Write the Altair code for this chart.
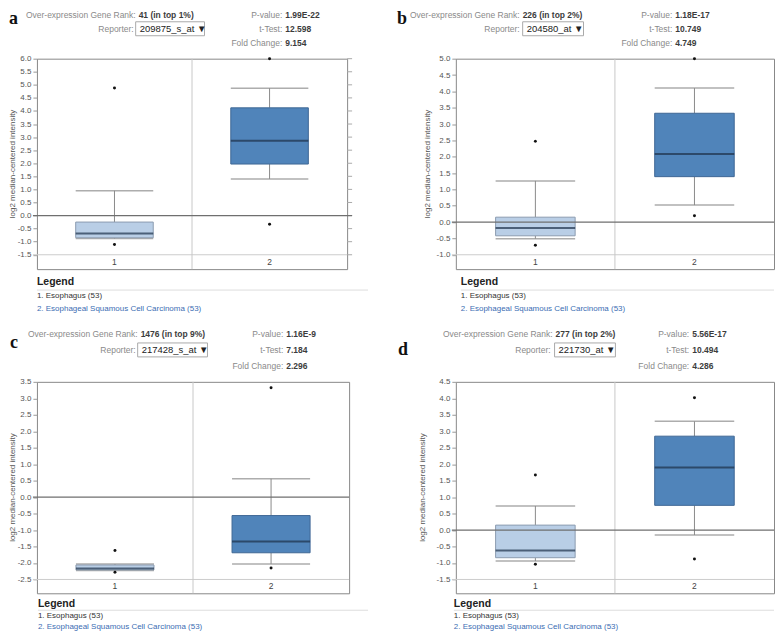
import altair as alt
import pandas as pd

FONT = "Liberation Sans"
GROUPS = ["1", "2"]

# ---------- panel a ----------
A_LOW = [-0.88, 1.40]
A_Q1 = [-0.85, 1.97]
A_MED = [-0.69, 2.86]
A_Q3 = [-0.25, 4.12]
A_HIGH = [0.95, 4.87]
A_OUT_G = ["1", "1", "2", "2"]
A_OUT_V = [4.88, -1.11, 6.00, -0.33]
A_TICKS = [-1.5, -1.0, -0.5, 0.0, 0.5, 1.0, 1.5, 2.0, 2.5, 3.0, 3.5, 4.0, 4.5, 5.0, 5.5, 6.0]
A_INFO = ["a", "41 (in top 1%)", "209875_s_at", "1.99E-22", "12.598", "9.154"]

# ---------- panel b ----------
B_LOW = [-0.51, 0.52]
B_Q1 = [-0.42, 1.39]
B_MED = [-0.18, 2.08]
B_Q3 = [0.15, 3.33]
B_HIGH = [1.26, 4.10]
B_OUT_G = ["1", "1", "2", "2"]
B_OUT_V = [2.47, -0.71, 5.00, 0.19]
B_TICKS = [-1.0, -0.5, 0.0, 0.5, 1.0, 1.5, 2.0, 2.5, 3.0, 3.5, 4.0, 4.5, 5.0]
B_INFO = ["b", "226 (in top 2%)", "204580_at", "1.18E-17", "10.749", "4.749"]

# ---------- panel c ----------
C_LOW = [-2.23, -2.03]
C_Q1 = [-2.21, -1.69]
C_MED = [-2.17, -1.35]
C_Q3 = [-2.06, -0.56]
C_HIGH = [-2.03, 0.56]
C_OUT_G = ["1", "1", "2", "2"]
C_OUT_V = [-1.62, -2.28, 3.32, -2.15]
C_TICKS = [-2.5, -2.0, -1.5, -1.0, -0.5, 0.0, 0.5, 1.0, 1.5, 2.0, 2.5, 3.0, 3.5]
C_INFO = ["c", "1476 (in top 9%)", "217428_s_at", "1.16E-9", "7.184", "2.296"]

# ---------- panel d ----------
D_LOW = [-0.94, -0.15]
D_Q1 = [-0.84, 0.75]
D_MED = [-0.62, 1.90]
D_Q3 = [0.15, 2.85]
D_HIGH = [0.73, 3.30]
D_OUT_G = ["1", "1", "2", "2"]
D_OUT_V = [1.67, -1.04, 4.02, -0.88]
D_TICKS = [-1.5, -1.0, -0.5, 0.0, 0.5, 1.0, 1.5, 2.0, 2.5, 3.0, 3.5, 4.0, 4.5]
D_INFO = ["d", "277 (in top 2%)", "221730_at", "5.56E-17", "10.494", "4.286"]

LEGEND_1 = "1. Esophagus (53)"
LEGEND_2 = "2. Esophageal Squamous Cell Carcinoma (53)"
Y_TITLE = "log2 median-centered intensity"

ONE = pd.DataFrame({"k": [0]})


def txt(s, x, y, align="left", size=8.5, color="#8a8a8a", weight="normal",
        font=FONT, angle=0):
    return alt.Chart(ONE).mark_text(
        text=s, align=align, baseline="middle", fontSize=size, color=color,
        fontWeight=weight, font=font, angle=angle
    ).encode(x=alt.value(x), y=alt.value(y))


def panel(low, q1, med, q3, high, og, ov, ticks, info, domain, L):
    W, H = L["W"], L["H"]
    ysc = alt.Scale(domain=domain, nice=False, zero=False)
    yax = alt.Axis(values=ticks, title=None, domain=False, grid=False,
                   tickColor="#999999", tickSize=4, labelFontSize=8,
                   labelColor="#555555", labelFont=FONT, labelPadding=2,
                   labelExpr="replace(format(datum.value, '.1f'), '\u2212', '-')")

    def Y(f):
        return alt.Y(f, type="quantitative", scale=ysc, axis=yax)

    X = alt.X("g:N", scale=alt.Scale(domain=GROUPS, paddingInner=0, paddingOuter=0), axis=None)
    box = pd.DataFrame({"g": GROUPS, "lo": low, "q1": q1, "med": med, "q3": q3, "hi": high})
    out = pd.DataFrame({"g": og, "v": ov})
    tdf = pd.DataFrame({"t": ticks})
    bw = W / 4.0

    fill = alt.Color("g:N", scale=alt.Scale(domain=GROUPS, range=["#b9cee6", "#5084ba"]), legend=None)
    strk = alt.Stroke("g:N", scale=alt.Scale(domain=GROUPS, range=["#8c9cb0", "#3f6795"]), legend=None)

    layers = []
    layers.append(alt.Chart(pd.DataFrame({"t": [ticks[0]]})).mark_rule(color="#cccccc").encode(
        y=Y("t"), x=alt.value(-4), x2=alt.value(W)))
    layers.append(alt.Chart(ONE).mark_rule(color="#c8c8c8").encode(
        x=alt.value(W / 2.0), y=alt.value(0), y2=alt.value(H)))
    if L.get("right_ticks"):
        layers.append(alt.Chart(tdf).mark_rule(color="#aaaaaa").encode(
            y=Y("t"), x=alt.value(W), x2=alt.value(W + 5)))
    layers.append(alt.Chart(box).mark_rule(color="#8a8a8a").encode(x=X, y=Y("q3"), y2="hi"))
    layers.append(alt.Chart(box).mark_rule(color="#8a8a8a").encode(x=X, y=Y("lo"), y2="q1"))
    layers.append(alt.Chart(box).mark_tick(size=bw, thickness=1.5, color="#8a8a8a").encode(x=X, y=Y("hi")))
    layers.append(alt.Chart(box).mark_tick(size=bw, thickness=1.5, color="#8a8a8a").encode(x=X, y=Y("lo")))
    layers.append(alt.Chart(box).mark_bar(width=bw, strokeWidth=1).encode(
        x=X, y=Y("q1"), y2="q3", color=fill, stroke=strk))
    layers.append(alt.Chart(pd.DataFrame({"z": [0.0]})).mark_rule(color="#6f6f6f", strokeWidth=1.2).encode(
        y=Y("z"), x=alt.value(-4), x2=alt.value(W + (5 if L.get("right_ticks") else 0))))
    layers.append(alt.Chart(box).mark_tick(size=bw, thickness=2, color="#1d3048").encode(x=X, y=Y("med")))
    layers.append(alt.Chart(out).mark_circle(size=9, color="#111111", opacity=1).encode(x=X, y=Y("v")))
    layers.append(alt.Chart(box).mark_text(fontSize=8.5, color="#444444", font=FONT, baseline="middle").encode(
        x=X, y=alt.value(H - 7), text="g:N"))

    layers.append(txt(Y_TITLE, L["yt"], H / 2.0, align="center", size=8, color="#555555", angle=270))

    letter, rank, rep, pv, tt, fc = info
    hy = L["hy"]
    layers.append(txt(letter, L["lx"], L["ly"], size=18, color="#111111", weight="bold", font="Liberation Serif"))
    layers.append(txt("Over-expression Gene Rank:", L["rx"], hy[0], align="right"))
    layers.append(txt(rank, L["rx"] + 3, hy[0], color="#3c3c3c", weight="bold"))
    layers.append(txt("Reporter:", L["rpx"], hy[1], align="right"))
    layers.append(alt.Chart(ONE).mark_rect(fill="white", stroke="#aaaaaa", strokeWidth=1).encode(
        x=alt.value(L["bx"][0]), x2=alt.value(L["bx"][1]),
        y=alt.value(hy[1] - 7), y2=alt.value(hy[1] + 7)))
    layers.append(txt(rep + " \u25bc", L["bx"][0] + 4, hy[1], size=9.5, color="#222222"))
    layers.append(txt("P-value:", L["px"], hy[0], align="right"))
    layers.append(txt(pv, L["px"] + 3, hy[0], color="#3c3c3c", weight="bold"))
    layers.append(txt("t-Test:", L["px"], hy[1], align="right"))
    layers.append(txt(tt, L["px"] + 3, hy[1], color="#3c3c3c", weight="bold"))
    layers.append(txt("Fold Change:", L["px"], hy[2], align="right"))
    layers.append(txt(fc, L["px"] + 3, hy[2], color="#3c3c3c", weight="bold"))

    gy = L["gy"]
    layers.append(txt("Legend", L["gx"], H + gy[0], size=10.5, color="#222222", weight="bold"))
    layers.append(alt.Chart(ONE).mark_rule(color="#dddddd").encode(
        x=alt.value(L["gx"]), x2=alt.value(L["gx2"]), y=alt.value(H + gy[1])))
    layers.append(txt(LEGEND_1, L["gx"], H + gy[2], size=8, color="#333333"))
    layers.append(txt(LEGEND_2, L["gx"], H + gy[3], size=8, color="#3b6db3"))

    return alt.layer(*layers).properties(width=W, height=H)


LA = dict(W=311, H=211, right_ticks=True, yt=-24, lx=-28, ly=-40, hy=[-44, -30, -16],
          rx=99, rpx=97, bx=[99, 168], px=246, gx=0, gx2=332, gy=[13, 21, 27, 40])
LB = dict(W=319, H=211, yt=-28, lx=-59, ly=-40, hy=[-44, -30, -16],
          rx=64, rpx=64, bx=[67, 128], px=217, gx=5, gx2=319, gy=[13, 21, 27, 40])
LC = dict(W=313, H=212, yt=-24, lx=-27, ly=-39, hy=[-48, -32, -16],
          rx=101, rpx=99, bx=[101, 171], px=247, gx=1, gx2=332, gy=[11, 17, 23, 34])
LD = dict(W=319, H=212, yt=-33, lx=-58, ly=-32, hy=[-48, -32, -16],
          rx=97, rpx=95, bx=[99, 160], px=234, gx=-2, gx2=319, gy=[11, 17, 23, 34])

pa = panel(A_LOW, A_Q1, A_MED, A_Q3, A_HIGH, A_OUT_G, A_OUT_V, A_TICKS, A_INFO, [-2.05, 6.0], LA)
pb = panel(B_LOW, B_Q1, B_MED, B_Q3, B_HIGH, B_OUT_G, B_OUT_V, B_TICKS, B_INFO, [-1.44, 5.0], LB)
pc = panel(C_LOW, C_Q1, C_MED, C_Q3, C_HIGH, C_OUT_G, C_OUT_V, C_TICKS, C_INFO, [-2.92, 3.5], LC)
pd_ = panel(D_LOW, D_Q1, D_MED, D_Q3, D_HIGH, D_OUT_G, D_OUT_V, D_TICKS, D_INFO, [-1.92, 4.5], LD)

chart = alt.concat(pa, pb, pc, pd_, columns=2, spacing={"row": 113, "column": 107},
                   bounds="flush").properties(padding=0, background="white").configure_view(
    stroke="#888888", strokeWidth=1)

chart.save("out.html", embed_options={"renderer": "svg", "actions": False})
